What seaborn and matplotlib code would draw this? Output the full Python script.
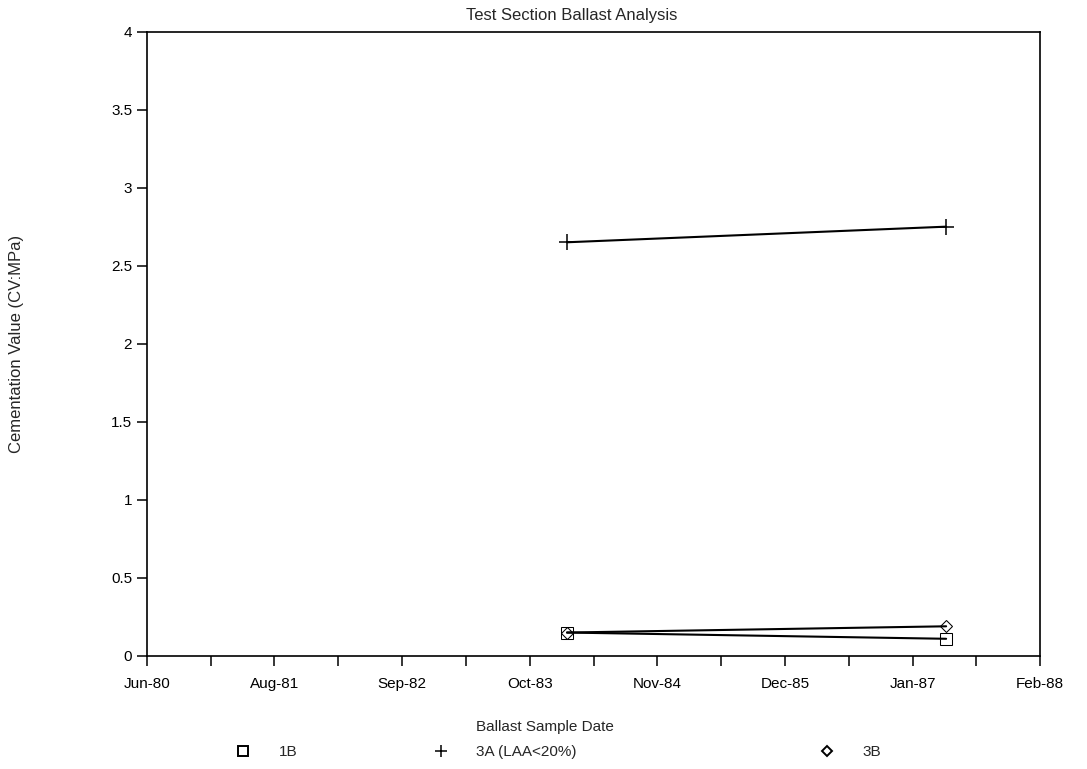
import matplotlib
matplotlib.use("Agg")
import matplotlib.pyplot as plt
import matplotlib.dates as mdates
from matplotlib.ticker import FuncFormatter
from matplotlib.lines import Line2D
import pandas as pd
import seaborn as sns
from datetime import datetime, timedelta

# Sample data
sample_dates = ["1984-02-05", "1987-05-08"]
series_names = ["1B", "3A (LAA<20%)", "3B"]
cv_1b = [0.15, 0.11]
cv_3a = [2.65, 2.75]
cv_3b = [0.15, 0.19]

# Date axis the way the spreadsheet set it up (serial day numbers)
excel_epoch = datetime(1899, 12, 30)
axis_min, axis_max, major_unit = 29400, 32200, 400
y_ticks = [0, 0.5, 1, 1.5, 2, 2.5, 3, 3.5, 4]

sns.set_style("ticks")
plt.rcParams["font.family"] = ["Liberation Sans", "DejaVu Sans"]

fig = plt.figure(figsize=(10.87, 7.69), dpi=100)
ax = fig.add_axes([0.135, 0.147, 0.822, 0.812])

dates = pd.to_datetime(sample_dates)
styles = {
    "1B": dict(marker="s", markersize=8),
    "3A (LAA<20%)": dict(marker="+", markersize=11, markeredgewidth=1.1),
    "3B": dict(marker="D", markersize=6.5),
}
values = {"1B": cv_1b, "3A (LAA<20%)": cv_3a, "3B": cv_3b}

for name in series_names:
    sns.lineplot(x=dates, y=values[name], ax=ax, color="black", linewidth=1.5,
                 markerfacecolor="none", markeredgecolor="black", **styles[name])

xmin = excel_epoch + timedelta(days=axis_min)
xmax = excel_epoch + timedelta(days=axis_max)
ax.set_xlim(xmin, xmax)
major = [excel_epoch + timedelta(days=d) for d in range(axis_min, axis_max + 1, major_unit)]
minor = [excel_epoch + timedelta(days=d) for d in range(axis_min, axis_max + 1, major_unit // 2)]
ax.set_xticks(major)
ax.set_xticks(minor, minor=True)
ax.xaxis.set_major_formatter(mdates.DateFormatter("%b-%y"))

ax.set_ylim(0, 4)
ax.set_yticks(y_ticks)
ax.yaxis.set_major_formatter(FuncFormatter(lambda v, p: f"{v:g}"))

ax.tick_params(axis="both", which="both", direction="out", length=7, width=1.1,
               color="black", labelsize=11, labelcolor="black")
ax.tick_params(axis="x", which="major", pad=8)
for side in ["left", "right", "top", "bottom"]:
    ax.spines[side].set_visible(True)
    ax.spines[side].set_linewidth(1.2)
    ax.spines[side].set_color("black")

ax.set_title("Test Section Ballast Analysis", fontsize=12, pad=8, x=0.476)
ax.set_ylabel("Cementation Value (CV:MPa)", fontsize=12)
ax.yaxis.set_label_coords(-0.137, 0.5)
ax.set_xlabel("Ballast Sample Date", fontsize=11)
ax.xaxis.set_label_coords(0.446, -0.103)

# Legend entries spread along the bottom like the original
legend_x = [0.214, 0.396, 0.751]
for name, lx in zip(series_names, legend_x):
    st = styles[name]
    handle = Line2D([], [], linestyle="none", color="black", markerfacecolor="none",
                    markeredgecolor="black", marker=st["marker"],
                    markersize=st["markersize"] * 0.85,
                    markeredgewidth=st.get("markeredgewidth", 1.4))
    fig.legend([handle], [name], loc="center left", bbox_to_anchor=(lx, 0.022),
               frameon=False, fontsize=11, handlelength=1.4, handletextpad=1.6,
               borderpad=0, borderaxespad=0)

fig.savefig("out.png", dpi=100, facecolor="white")
